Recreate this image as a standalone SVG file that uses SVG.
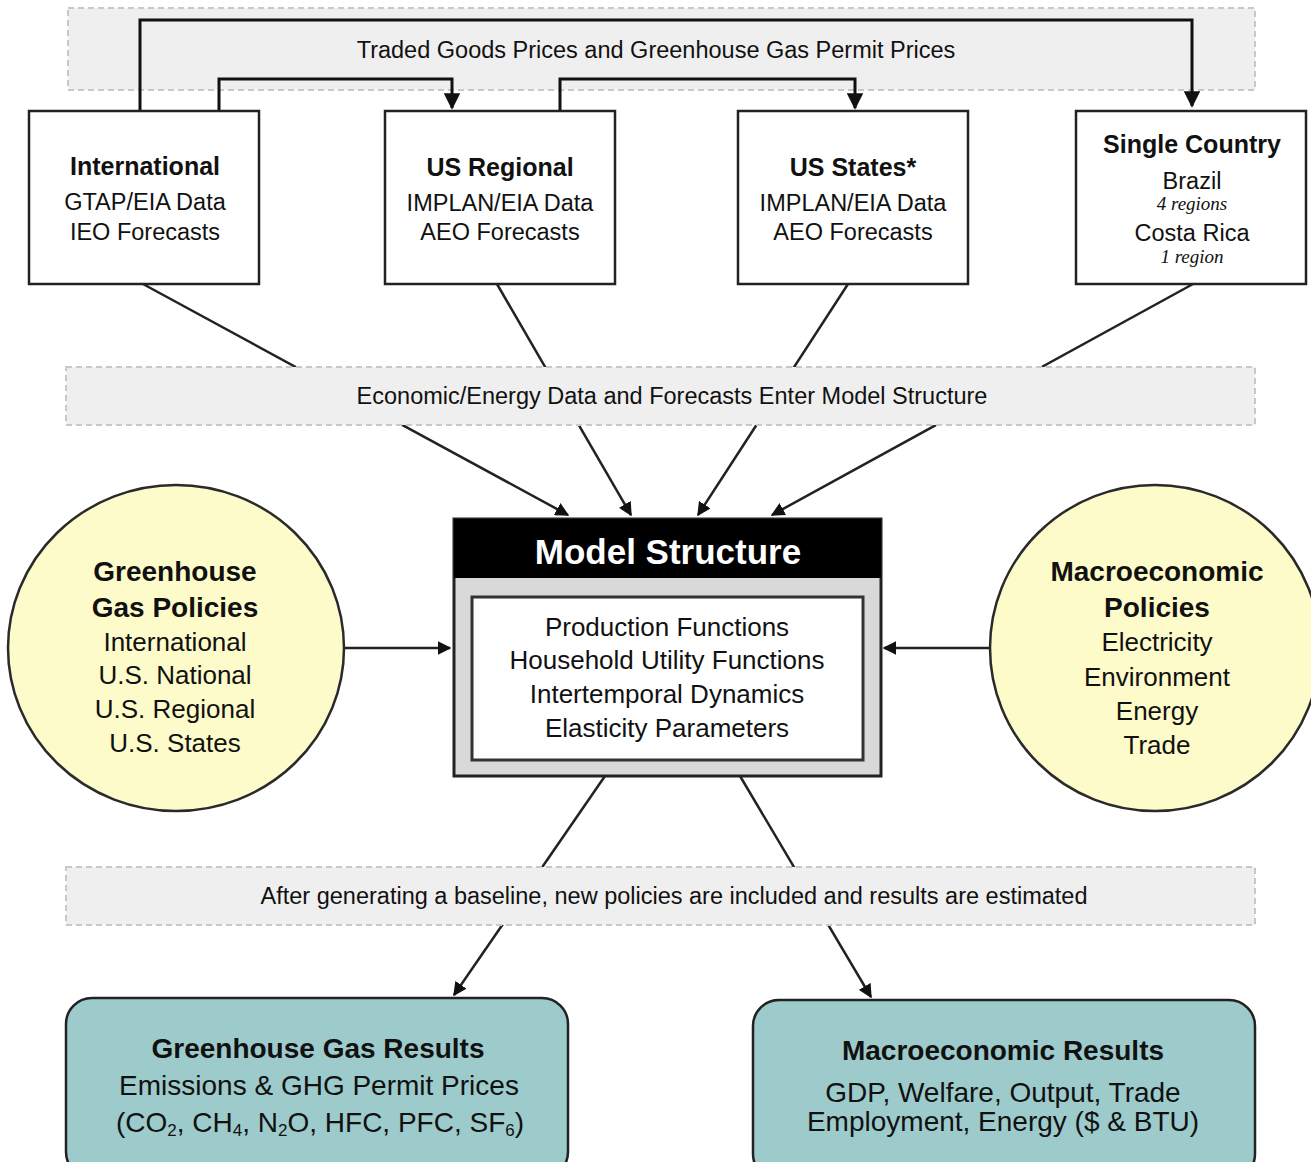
<svg xmlns="http://www.w3.org/2000/svg" width="1311" height="1162" viewBox="0 0 1311 1162">
<style>
text{font-family:"Liberation Sans",Arial,sans-serif;fill:#111;text-anchor:middle;dominant-baseline:central}
.b{font-weight:bold}
.t{font-size:23.5px}
.h{font-size:25px;font-weight:bold}
.c{font-size:26px}
.ch{font-size:28px;font-weight:bold}
.r{font-size:28px}
.it{font-family:"Liberation Serif","Times New Roman",serif;font-style:italic;font-size:19px}
.banner{fill:#efefef;stroke:#c8c8c8;stroke-width:2;stroke-dasharray:6 4}
.box{fill:#fff;stroke:#222;stroke-width:2.5}
.circ{fill:#fdfbc9;stroke:#2a2a2a;stroke-width:2.5}
.res{fill:#9dcbcc;stroke:#222;stroke-width:2.5}
.ln{fill:none;stroke:#222;stroke-width:2.5}
.top{fill:none;stroke:#111;stroke-width:3}
</style>
<defs>
<marker id="ah" viewBox="0 0 10 10" refX="9" refY="5" markerWidth="5.5" markerHeight="5.5" orient="auto" markerUnits="strokeWidth">
<path d="M0,0 L10,5 L0,10 z" fill="#111"/>
</marker>
</defs>
<rect width="1311" height="1162" fill="#fff"/>

<g id="banner-top">
<rect class="banner" x="68" y="8" width="1187" height="82"/>
<text class="t" x="656" y="50">Traded Goods Prices and Greenhouse Gas Permit Prices</text>
</g>

<g id="connectors">
<path class="top" d="M140,111 V20 H1192 V106" marker-end="url(#ah)"/>
<path class="top" d="M219,111 V79 H452 V108" marker-end="url(#ah)"/>
<path class="top" d="M560,111 V79 H855 V108" stroke="#333" marker-end="url(#ah)"/>
<line class="ln" x1="143" y1="284" x2="568" y2="515" marker-end="url(#ah)"/>
<line class="ln" x1="497" y1="284" x2="631" y2="515" marker-end="url(#ah)"/>
<line class="ln" x1="848" y1="284" x2="698" y2="515" marker-end="url(#ah)"/>
<line class="ln" x1="1193" y1="284" x2="772" y2="515" marker-end="url(#ah)"/>
<line class="ln" x1="344" y1="648" x2="450" y2="648" stroke="#555" marker-end="url(#ah)"/>
<line class="ln" x1="990" y1="648" x2="884" y2="648" stroke="#555" marker-end="url(#ah)"/>
<line class="ln" x1="605" y1="776" x2="454" y2="995" marker-end="url(#ah)"/>
<line class="ln" x1="740" y1="776" x2="871" y2="997" marker-end="url(#ah)"/>
</g>

<g id="banner-mid">
<rect class="banner" x="66" y="367" width="1189" height="58"/>
<text class="t" x="672" y="396">Economic/Energy Data and Forecasts Enter Model Structure</text>
</g>

<g id="banner-bottom">
<rect class="banner" x="66" y="867" width="1189" height="58"/>
<text class="t" x="674" y="896">After generating a baseline, new policies are included and results are estimated</text>
</g>

<g id="international">
<rect class="box" x="29" y="111" width="230" height="173"/>
<text class="h" x="145" y="166">International</text>
<text class="t" x="145" y="202">GTAP/EIA Data</text>
<text class="t" x="145" y="232">IEO Forecasts</text>
</g>

<g id="us-regional">
<rect class="box" x="385" y="111" width="230" height="173"/>
<text class="h" x="500" y="167">US Regional</text>
<text class="t" x="500" y="203">IMPLAN/EIA Data</text>
<text class="t" x="500" y="232">AEO Forecasts</text>
</g>

<g id="us-states">
<rect class="box" x="738" y="111" width="230" height="173"/>
<text class="h" x="853" y="167">US States*</text>
<text class="t" x="853" y="203">IMPLAN/EIA Data</text>
<text class="t" x="853" y="232">AEO Forecasts</text>
</g>

<g id="single-country">
<rect class="box" x="1076" y="111" width="230" height="173"/>
<text class="h" x="1192" y="144">Single Country</text>
<text class="t" x="1192" y="181">Brazil</text>
<text class="it" x="1192" y="203">4 regions</text>
<text class="t" x="1192" y="233">Costa Rica</text>
<text class="it" x="1192" y="256">1 region</text>
</g>

<g id="model-structure">
<rect x="454" y="519" width="427" height="257" fill="#d9d9d9" stroke="#222" stroke-width="3"/>
<rect x="454" y="519" width="427" height="59" fill="#000"/>
<text x="668" y="551" style="font-size:35px;font-weight:bold;fill:#fff">Model Structure</text>
<rect x="472" y="597" width="391" height="163" fill="#fff" stroke="#333" stroke-width="3"/>
<text class="c" x="667" y="627">Production Functions</text>
<text class="c" x="667" y="660">Household Utility Functions</text>
<text class="c" x="667" y="694">Intertemporal Dynamics</text>
<text class="c" x="667" y="728">Elasticity Parameters</text>
</g>

<g id="ghg-policies">
<ellipse class="circ" cx="176" cy="648" rx="168" ry="163"/>
<text class="ch" x="175" y="571">Greenhouse</text>
<text class="ch" x="175" y="607">Gas Policies</text>
<text class="c" x="175" y="642">International</text>
<text class="c" x="175" y="675">U.S. National</text>
<text class="c" x="175" y="709">U.S. Regional</text>
<text class="c" x="175" y="743">U.S. States</text>
</g>

<g id="macro-policies">
<ellipse class="circ" cx="1155" cy="648" rx="165" ry="163"/>
<text class="ch" x="1157" y="571">Macroeconomic</text>
<text class="ch" x="1157" y="607">Policies</text>
<text class="c" x="1157" y="642">Electricity</text>
<text class="c" x="1157" y="677">Environment</text>
<text class="c" x="1157" y="711">Energy</text>
<text class="c" x="1157" y="745">Trade</text>
</g>

<g id="ghg-results">
<rect class="res" x="66" y="998" width="502" height="180" rx="26"/>
<text class="ch" x="318" y="1048">Greenhouse Gas Results</text>
<text class="r" x="319" y="1085">Emissions &amp; GHG Permit Prices</text>
<text class="r" x="320" y="1122">(CO<tspan font-size="17" dy="8">2</tspan><tspan dy="-8">, CH</tspan><tspan font-size="17" dy="8">4</tspan><tspan dy="-8">, N</tspan><tspan font-size="17" dy="8">2</tspan><tspan dy="-8">O, HFC, PFC, SF</tspan><tspan font-size="17" dy="8">6</tspan><tspan dy="-8">)</tspan></text>
</g>

<g id="macro-results">
<rect class="res" x="753" y="1000" width="502" height="180" rx="26"/>
<text class="ch" x="1003" y="1050">Macroeconomic Results</text>
<text class="r" x="1003" y="1092">GDP, Welfare, Output, Trade</text>
<text class="r" x="1003" y="1121">Employment, Energy ($ &amp; BTU)</text>
</g>
</svg>
